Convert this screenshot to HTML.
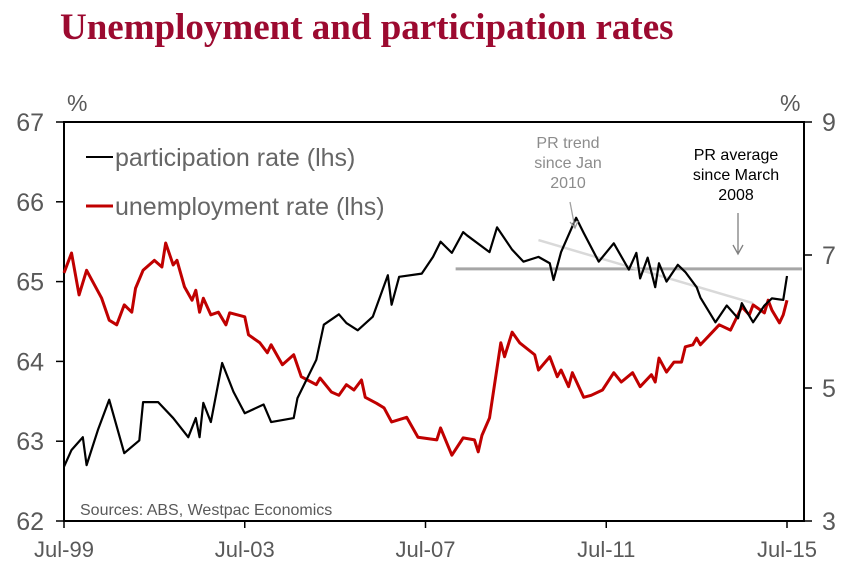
<!DOCTYPE html>
<html><head><meta charset="utf-8"><style>
body{margin:0;background:#fff;width:856px;height:580px;overflow:hidden}
svg{display:block;font-family:"Liberation Sans",sans-serif}
</style></head><body>
<svg id="chart" width="856" height="580">
<text x="60" y="39" font-family="Liberation Serif,serif" font-weight="bold" font-size="37" fill="#9c0a30">Unemployment and participation rates</text>
<g id="axes"></g>
<g id="marks"></g>
</svg>
<script>
const prMonths=[0,2,5,6,9,12,16,20,21,25,29,33,35,36,37,39,42,45,48,53,55,61,62,67,69,73,75,78,82,86,87,89,95,98,100,103,106,107,113,115,119,122,126,129,130,132,136,138,142,146,150,152,153,155,157,158,160,163,165,168,169,173,176,179,180,183,186,188,191,192];
const prValues=[62.68,62.89,63.05,62.7,63.14,63.52,62.85,63.01,63.49,63.49,63.29,63.05,63.29,63.05,63.48,63.24,63.98,63.62,63.35,63.46,63.24,63.29,63.54,64.02,64.46,64.59,64.48,64.39,64.56,65.08,64.71,65.06,65.1,65.31,65.5,65.36,65.62,65.58,65.37,65.68,65.4,65.25,65.31,65.23,65.02,65.37,65.8,65.61,65.25,65.48,65.15,65.36,65.04,65.3,64.93,65.23,65.0,65.21,65.12,64.93,64.8,64.49,64.7,64.54,64.73,64.49,64.7,64.79,64.77,65.07];
const urMonths=[0,2,4,6,10,12,14,16,18,19,21,24,26,27,29,30,32,34,35,36,37,39,41,43,44,48,49,52,54,55,57,58,61,63,67,68,71,73,75,77,79,80,83,85,87,91,94,99,100,103,106,109,110,111,113,116,117,119,121,125,126,129,131,132,134,135,138,140,143,146,148,151,153,156,157,158,160,162,164,165,167,168,169,171,174,177,180,182,183,186,187,188,190,191,192];
const urValues=[6.73,7.03,6.4,6.77,6.35,6.02,5.95,6.25,6.14,6.5,6.77,6.92,6.82,7.18,6.85,6.92,6.52,6.32,6.47,6.14,6.35,6.1,6.14,5.95,6.13,6.07,5.8,5.68,5.53,5.65,5.45,5.35,5.5,5.17,5.05,5.15,4.94,4.89,5.05,4.97,5.12,4.86,4.77,4.7,4.49,4.56,4.26,4.22,4.4,3.99,4.25,4.22,4.04,4.29,4.55,5.68,5.47,5.84,5.68,5.5,5.27,5.47,5.17,5.27,5.02,5.23,4.86,4.89,4.97,5.23,5.09,5.23,5.02,5.2,5.09,5.45,5.24,5.39,5.39,5.62,5.65,5.75,5.65,5.77,5.95,5.87,6.22,6.1,6.25,6.13,6.32,6.17,5.98,6.1,6.32];
const prAverage=65.16, avgStart=104, avgEnd=196;
const trendStart=[126,65.52], trendEnd=[183,64.73];
const leftTicks=[62,63,64,65,66,67];
const rightTicks=[3,5,7,9];
const xTickMonths=[0,48,96,144,192];
const xTickLabels=["Jul-99","Jul-03","Jul-07","Jul-11","Jul-15"];

const L=64,R=804,T=122,B=521;
const xs=m=>L+m*(787-L)/192;
const yl=v=>B-(v-62)*(B-T)/5;
const yr=v=>B-(v-3)*(B-T)/6;
const NS="http://www.w3.org/2000/svg";
const axes=document.getElementById('axes'),marks=document.getElementById('marks');
function mk(tag,attrs,parent,txt){const e=document.createElementNS(NS,tag);for(const k in attrs)e.setAttribute(k,attrs[k]);if(txt!==undefined)e.textContent=txt;parent.appendChild(e);return e;}

let e=mk('rect',{x:L,y:T,width:R-L,height:B-T,fill:'none',stroke:'#000','stroke-width':2},axes);


leftTicks.forEach(v=>{
  let t=mk('line',{x1:L-8,x2:L,y1:yl(v),y2:yl(v),stroke:'#000','stroke-width':1.5},axes);
  
  
  let l=mk('text',{x:L-20,y:yl(v)+9,'text-anchor':'end','font-size':25,fill:'#595959'},axes,v);
  
  
});
rightTicks.forEach(v=>{
  let t=mk('line',{x1:R,x2:R+8,y1:yr(v),y2:yr(v),stroke:'#000','stroke-width':1.5},axes);
  
  
  let l=mk('text',{x:R+18,y:yr(v)+9,'text-anchor':'start','font-size':25,fill:'#595959'},axes,v);
  
  
});
xTickMonths.forEach((m,i)=>{
  let t=mk('line',{x1:xs(m),x2:xs(m),y1:B,y2:B+7,stroke:'#000','stroke-width':1.5},axes);
  
  
  let l=mk('text',{x:xs(m),y:B+36,'text-anchor':'middle','font-size':22,fill:'#595959'},axes,xTickLabels[i]);
  
  
});
e=mk('text',{x:67,y:111,'font-size':23,fill:'#595959'},axes,'%');


e=mk('text',{x:780,y:111,'font-size':23,fill:'#595959'},axes,'%');


e=mk('text',{x:80,y:515,'font-size':16,fill:'#595959'},axes,'Sources: ABS, Westpac Economics');



e=mk('line',{x1:xs(avgStart),x2:xs(avgEnd),y1:yl(prAverage),y2:yl(prAverage),stroke:'#a6a6a6','stroke-width':3},marks);


e=mk('line',{x1:xs(trendStart[0]),y1:yl(trendStart[1]),x2:xs(trendEnd[0]),y2:yl(trendEnd[1]),stroke:'#d9d9d9','stroke-width':2.5},marks);



e=mk('polyline',{points:urMonths.map((m,i)=>xs(m)+','+yr(urValues[i])).join(' '),fill:'none',stroke:'#c00000','stroke-width':3,'stroke-linejoin':'round'},marks);


e=mk('polyline',{points:prMonths.map((m,i)=>xs(m)+','+yl(prValues[i])).join(' '),fill:'none',stroke:'#000','stroke-width':2.2,'stroke-linejoin':'round'},marks);



// legend
e=mk('line',{x1:86,x2:113,y1:157,y2:157,stroke:'#000','stroke-width':2},marks);


e=mk('text',{x:115,y:166,'font-size':25,fill:'#666'},marks,'participation rate (lhs)');


e=mk('line',{x1:86,x2:113,y1:206,y2:206,stroke:'#c00000','stroke-width':3},marks);


e=mk('text',{x:115,y:215,'font-size':25,fill:'#666'},marks,'unemployment rate (lhs)');



// annotations
[['PR trend',148],['since Jan',168],['2010',188]].forEach(([s,y])=>{
  let t=mk('text',{x:568,y:y,'text-anchor':'middle','font-size':16,fill:'#8c8c8c'},marks,s);
  
  
});
[['PR average',160],['since March',180],['2008',200]].forEach(([s,y])=>{
  let t=mk('text',{x:736,y:y,'text-anchor':'middle','font-size':16,fill:'#000'},marks,s);
  
  
});
e=mk('path',{d:'M570,202 L575,228 M570,222 L575,228 L578,221',fill:'none',stroke:'#a0a0a0','stroke-width':1.3},marks);


e=mk('path',{d:'M738,213 L738,254 M733,245 L738,254 L743,245',fill:'none',stroke:'#808080','stroke-width':1.3},marks);


</script>
</body></html>
